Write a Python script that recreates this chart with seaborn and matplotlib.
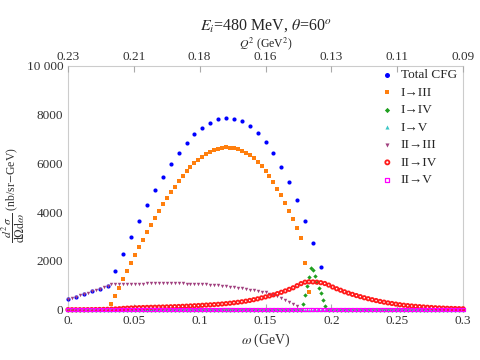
import numpy as np
import pandas as pd
import seaborn as sns
import matplotlib
matplotlib.use("Agg")
import matplotlib.pyplot as plt

# omega grids (GeV)
step = 0.003
total_step = 0.006

# Total CFG, every 0.006 GeV from 0
total_cfg = [427, 535, 645, 755, 865, 985, 1576, 2273, 2983, 3627, 4283, 4899,
             5445, 5979, 6430, 6840, 7197, 7468, 7674, 7813, 7866, 7838, 7743,
             7538, 7251, 6881, 6417, 5868, 5228, 4489, 3652, 2749, 1764]

# I->III, from 0.033
i_iii_start = 0.033
i_iii = [222, 562, 903, 1247, 1576, 1904, 2232, 2560, 2873, 3176, 3476, 3763,
         4038, 4325, 4571, 4817, 5047, 5281, 5486, 5679, 5843, 6007, 6143, 6278,
         6389, 6483, 6553, 6606, 6647, 6664, 6647, 6623, 6582, 6512, 6430, 6336,
         6212, 6048, 5884, 5679, 5474, 5228, 4965, 4694, 4378, 4050, 3709, 3340,
         2942, 1916, 726]

# I->IV peak (fine steps) + flat part at zero
i_iv_peak_omega = [0.1785, 0.18, 0.1815, 0.183, 0.1845, 0.186, 0.1875, 0.189,
                   0.1905, 0.192, 0.1935, 0.195]
i_iv_peak = [234, 603, 985, 1354, 1711, 1629, 1395, 1149, 903, 673, 398, 152]

# II->III, from 0
ii_iii = [427, 480, 535, 590, 645, 700, 755, 810, 865, 925, 985, 1035, 1050,
          1058, 1062, 1066, 1068, 1070, 1072, 1074, 1076, 1078, 1080, 1081, 1082,
          1083, 1083, 1082, 1080, 1078, 1075, 1072, 1068, 1063, 1050, 1040, 1025,
          1008, 995, 985, 968, 948, 925, 900, 875, 850, 825, 805, 775, 745, 710,
          665, 610, 545, 475, 400, 330, 245, 155]

# II->IV, from 0
ii_iv = [0, 0, 0, 0, 0, 2, 4, 6, 9, 12, 16, 22, 30, 40, 55, 64, 72, 78,
         84, 89, 94, 98, 102, 106, 110, 115, 120, 126, 132, 139, 146, 154, 163,
         172, 182, 192, 200, 210, 222, 235, 250, 266, 285, 305, 325, 350, 380,
         410, 445, 485, 525, 565, 610, 660, 715, 770, 835, 900, 985, 1070, 1130,
         1145, 1140, 1130, 1110, 1075, 1010, 930, 860, 800, 735, 680, 630, 580,
         535, 490, 450, 410, 375, 340, 310, 280, 255, 230, 205, 185, 168, 152,
         138, 124, 112, 100, 90, 80, 72, 65, 58, 52, 47, 42, 38]

q2_labels = ["0.23", "0.21", "0.18", "0.16", "0.13", "0.11", "0.09"]
x_ticks = [0, 0.05, 0.1, 0.15, 0.2, 0.25, 0.3]
x_ticklabels = ["0.", "0.05", "0.1", "0.15", "0.2", "0.25", "0.3"]
y_ticks = [0, 2000, 4000, 6000, 8000, 10000]
y_ticklabels = ["0", "2000", "4000", "6000", "8000", "10 000"]


def grid(start, n, d):
    return np.round(start + d * np.arange(n), 4)


full_grid = grid(0, 101, step)
zeros = [0.0] * len(full_grid)

i_iv_omega = np.concatenate([full_grid[full_grid < 0.178], i_iv_peak_omega,
                             full_grid[full_grid > 0.196]])
i_iv = np.concatenate([zeros[:int((full_grid < 0.178).sum())], i_iv_peak,
                       zeros[:int((full_grid > 0.196).sum())]])

series = [
    ("Total CFG", grid(0, len(total_cfg), total_step), total_cfg,
     dict(marker="o", color="#0000ff", s=9, linewidth=0)),
    ("I\u2192III", grid(i_iii_start, len(i_iii), step), i_iii,
     dict(marker="s", color="#ff7f0e", s=7, linewidth=0)),
    ("I\u2192IV", i_iv_omega, i_iv,
     dict(marker="D", color="#1f9f1f", s=5, linewidth=0)),
    ("I\u2192V", full_grid, zeros,
     dict(marker="^", color="#3cc6c6", s=6, linewidth=0)),
    ("II\u2192III", grid(0, len(ii_iii), step), ii_iii,
     dict(marker="v", color="#a0407f", s=6, linewidth=0)),
    ("II\u2192IV", full_grid, ii_iv,
     dict(marker="o", facecolor="none", edgecolor="#ff1a1a", s=6, linewidth=1.3)),
    ("II\u2192V", full_grid, zeros,
     dict(marker="s", facecolor="none", edgecolor="#ff00ff", s=5, linewidth=0.9)),
]

sns.set_style("white")
plt.rcParams["font.family"] = ["Liberation Serif", "DejaVu Serif"]
plt.rcParams["mathtext.fontset"] = "stix"

fig = plt.figure(figsize=(4.8, 3.6), dpi=100)
ax = fig.add_axes([0.1417, 0.1397, 0.8229, 0.677])

for label, xs, ys, kw in series:
    df = pd.DataFrame({"omega": xs, "val": ys})
    sns.scatterplot(data=df, x="omega", y="val", ax=ax, label=label,
                    clip_on=False, zorder=3, **kw)

ax.set_xlim(0, 0.3)
ax.set_ylim(0, 10000)
ax.set_xticks(x_ticks)
ax.set_xticklabels(x_ticklabels)
ax.set_yticks(y_ticks)
ax.set_yticklabels(y_ticklabels)
ax.tick_params(direction="in", length=4, color="#aaaaaa", labelsize=9.5,
               labelcolor="#333333")
for sp in ax.spines.values():
    sp.set_color("#cccccc")
    sp.set_linewidth(0.8)

ax.set_xlabel(r"$\omega$ (GeV)", fontsize=10, color="#333333")
ax.set_ylabel(r"$\dfrac{d^2\,\sigma}{\mathrm{d}\Omega\mathrm{d}\omega}$ (nb/sr$-$GeV)",
              fontsize=8.5, color="#333333")
ax.yaxis.set_label_coords(-0.105, 0.47)

top = ax.twiny()
top.set_xlim(ax.get_xlim())
top.set_xticks(x_ticks)
top.set_xticklabels(q2_labels)
top.tick_params(direction="in", length=4, color="#aaaaaa", labelsize=9.5,
                labelcolor="#333333", pad=2)
for sp in top.spines.values():
    sp.set_visible(False)
top.set_xlabel(r"$Q^2$ (GeV$^2$)", fontsize=8.5, labelpad=2.5)

fig.text(0.553, 0.928, r"$E_i$=480 MeV, $\theta$=60$^o$", ha="center",
         va="center", fontsize=11.5)

leg = ax.legend(loc="upper left", bbox_to_anchor=(0.755, 1.02), frameon=False,
                fontsize=9.5, handletextpad=0.0, labelspacing=0.4,
                borderaxespad=0.2, markerscale=1.2)

fig.savefig("out.png", dpi=100)
